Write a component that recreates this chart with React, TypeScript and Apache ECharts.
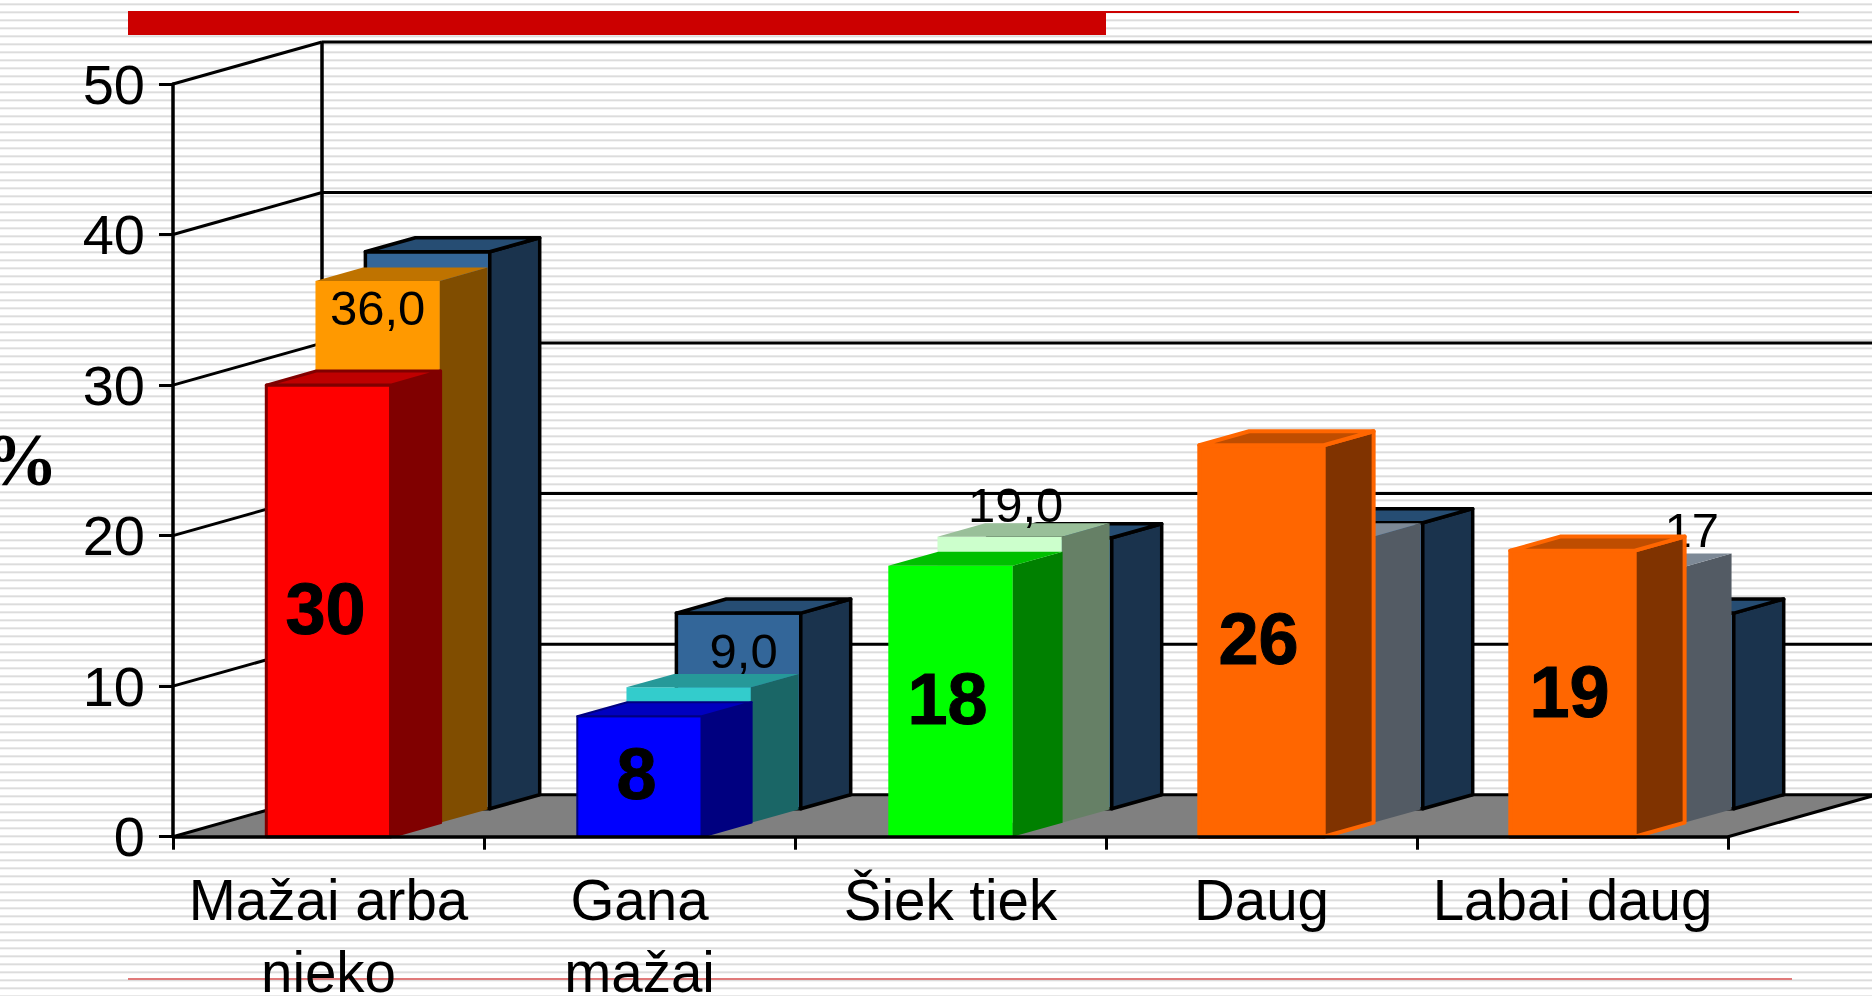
import React, { useEffect, useRef } from "react";
import * as echarts from "echarts";

const categories = ["Mažai arba\nnieko", "Gana\nmažai", "Šiek tiek", "Daug", "Labai daug"];
const yTicks = [0, 10, 20, 30, 40, 50];
const frontValues = [30, 8, 18, 26, 19];
const middleValues = [36, 9, 19, 19, 17];
const backValues = [37, 13, 18, 19, 13];
const middleLabels = ["36,0", "9,0", "19,0", "", "17"];

const frontColors = ["#FF0000", "#0000FF", "#00FF00", "#FF6600", "#FF6600"];
const frontStrokes = ["#800000", "#000080", "none", "#FF6600", "#FF6600"];
const frontStrokeWidths = [3, 2, 0, 4, 4];
const middleColors = ["#FF9900", "#33CCCC", "#CCFFCC", "#A6B6C8", "#A6B6C8"];
const backColor = "#336699";

// hand-placed label shifts of the middle row, relative to the top centre of its front face
const middleLabelShifts = [[0, 27], [55, -36], [16, -32], [0, 0], [70, -37]];

const DEPTH_X = 149;
const DEPTH_Y = 42;
const SANS = "Liberation Sans";

const shade = (hex: string, k: number) => {
  const n = parseInt(hex.slice(1), 16);
  const c = (v: number) => Math.round(v * k);
  return `rgb(${c((n >> 16) & 255)},${c((n >> 8) & 255)},${c(n & 255)})`;
};

const barItem = (
  api: any,
  d0: number,
  d1: number,
  fill: string,
  stroke: string,
  lineWidth: number,
  extra: any[] = [],
) => {
  const c = api.value(0);
  const v = api.value(1);
  const top = api.coord([c, v]);
  const base = api.coord([c, 0]);
  const w = api.size([1, 0])[0] * 0.4;
  const ox = d0 * DEPTH_X;
  const oy = -d0 * DEPTH_Y;
  const sx = (d1 - d0) * DEPTH_X;
  const sy = -(d1 - d0) * DEPTH_Y;
  const l = top[0] - w / 2 + ox;
  const r = l + w;
  const yT = top[1] + oy;
  const yB = base[1] + oy;
  const st = stroke === "none" ? {} : { stroke, lineWidth, lineJoin: "round" };
  const poly = (points: number[][], color: string) => ({
    type: "polygon",
    shape: { points },
    style: { fill: color, ...st },
  });
  return {
    type: "group",
    children: [
      poly([[l, yB], [r, yB], [r, yT], [l, yT]], fill),
      poly([[r, yB], [r + sx, yB + sy], [r + sx, yT + sy], [r, yT]], shade(fill, 0.5)),
      poly([[l, yT], [r, yT], [r + sx, yT + sy], [l + sx, yT + sy]], shade(fill, 0.75)),
      ...extra,
    ],
  };
};

const wallItem = (params: any, api: any) => {
  const v = api.value(0);
  const cs = params.coordSys;
  const y = api.coord([0, v])[1];
  const left = cs.x;
  const right = cs.x + cs.width;
  const line = (x1: number, y1: number, x2: number, y2: number, lineWidth: number) => ({
    type: "line",
    shape: { x1, y1, x2, y2 },
    style: { stroke: "#000", lineWidth },
  });
  const children: any[] = [];
  if (v === 0) {
    children.push({
      type: "polygon",
      shape: {
        points: [
          [left, y],
          [left + DEPTH_X, y - DEPTH_Y],
          [right + DEPTH_X, y - DEPTH_Y],
          [right, y],
        ],
      },
      style: { fill: "#808080" },
    });
    children.push(line(right, y, right + DEPTH_X, y - DEPTH_Y, 3));
    children.push(line(left + DEPTH_X, y - DEPTH_Y, left + DEPTH_X, cs.y - DEPTH_Y, 3.5));
  }
  children.push(line(left, y, left + DEPTH_X, y - DEPTH_Y, 3));
  children.push(line(left + DEPTH_X, y - DEPTH_Y, right + DEPTH_X, y - DEPTH_Y, 3));
  return { type: "group", children };
};

export default function App() {
  const ref = useRef<HTMLDivElement>(null);
  useEffect(() => {
    document.body.style.margin = "0";
    const chart = echarts.init(ref.current!, undefined, { renderer: "svg" });
    chart.setOption({
      animation: false,
      backgroundColor: "transparent",
      grid: { left: 173, right: 144, top: 84, height: 752.7, containLabel: false, outerBoundsMode: "none" },
      xAxis: {
        type: "category",
        data: categories,
        boundaryGap: true,
        z: 6,
        axisLine: { lineStyle: { color: "#000", width: 3.5 } },
        axisTick: { show: true, alignWithLabel: false, length: 13, lineStyle: { color: "#000", width: 3 } },
        axisLabel: {
          color: "#000",
          fontFamily: SANS,
          fontSize: 56.5,
          lineHeight: 72,
          margin: 28,
          interval: 0,
        },
        splitLine: { show: false },
      },
      yAxis: {
        type: "value",
        min: 0,
        max: 50,
        interval: 10,
        z: 6,
        name: "%",
        nameLocation: "middle",
        nameRotate: 0,
        nameGap: 115,
        nameTextStyle: {
          color: "#000",
          fontFamily: "Liberation Serif",
          fontWeight: "bold",
          fontSize: 74,
        },
        axisLine: { show: true, lineStyle: { color: "#000", width: 3.5 } },
        axisTick: { show: true, length: 14, lineStyle: { color: "#000", width: 3 } },
        axisLabel: { color: "#000", fontFamily: SANS, fontSize: 56, margin: 28 },
        splitLine: { show: false },
      },
      graphic: [
        { type: "rect", shape: { x: 128, y: 11, width: 978, height: 24 }, style: { fill: "#CC0000" } },
        { type: "rect", shape: { x: 1106, y: 11, width: 693, height: 2 }, style: { fill: "#CC0000" } },
        { type: "rect", shape: { x: 128, y: 978, width: 1664, height: 2 }, style: { fill: "#E07A7A" } },
      ],
      series: [
        {
          type: "custom",
          name: "walls",
          z: 1,
          silent: true,
          data: yTicks.map((t) => [t]),
          encode: { y: 0 },
          renderItem: wallItem,
        },
        {
          type: "custom",
          name: "back",
          z: 2,
          silent: true,
          data: backValues.map((v, i) => [i, v]),
          encode: { x: 0, y: 1 },
          renderItem: (_: any, api: any) => barItem(api, 0.665, 1, backColor, "#000", 3.5),
        },
        {
          type: "custom",
          name: "middle",
          z: 3,
          silent: true,
          data: middleValues.map((v, i) => [i, v]),
          encode: { x: 0, y: 1 },
          renderItem: (params: any, api: any) => {
            const i = params.dataIndex;
            const c = api.coord([api.value(0), api.value(1)]);
            const [sx, sy] = middleLabelShifts[i];
            return barItem(api, 0.33, 0.65, middleColors[i], "none", 0, middleLabels[i]
              ? [{
                  type: "text",
                  style: {
                    text: middleLabels[i],
                    x: c[0] + 0.33 * DEPTH_X + sx,
                    y: c[1] - 0.33 * DEPTH_Y + sy,
                    align: "center",
                    verticalAlign: "middle",
                    fill: "#000",
                    fontFamily: SANS,
                    fontSize: 49,
                  },
                }]
              : []);
          },
        },
        {
          type: "custom",
          name: "front",
          z: 4,
          silent: true,
          data: frontValues.map((v, i) => [i, v]),
          encode: { x: 0, y: 1 },
          renderItem: (params: any, api: any) => {
            const i = params.dataIndex;
            const c = api.coord([api.value(0), api.value(1)]);
            const b = api.coord([api.value(0), 0]);
            return barItem(api, 0, 0.335, frontColors[i], frontStrokes[i], frontStrokeWidths[i], [{
              type: "text",
              style: {
                text: String(api.value(1)),
                x: c[0] - 3,
                y: (c[1] + b[1]) / 2 - 2,
                align: "center",
                verticalAlign: "middle",
                fill: "#000",
                stroke: "#000",
                lineWidth: 1,
                fontFamily: SANS,
                fontWeight: "bold",
                fontSize: 72,
              },
            }]);
          },
        },
      ],
    });
    return () => chart.dispose();
  }, []);
  return (
    <div
      style={{
        position: "fixed",
        left: 0,
        top: 0,
        width: 1872,
        height: 996,
        overflow: "hidden",
        background:
          "repeating-linear-gradient(to bottom, #fff 0px, #fff 3px, #e8e8e8 3px, #e8e8e8 4px, #dcdcdc 4px, #dcdcdc 5px, #f4f4f4 5px, #f4f4f4 6px, #fff 6px, #fff 8px)",
      }}
    >
      <div ref={ref} style={{ width: 1872, height: 996 }} />
    </div>
  );
}
